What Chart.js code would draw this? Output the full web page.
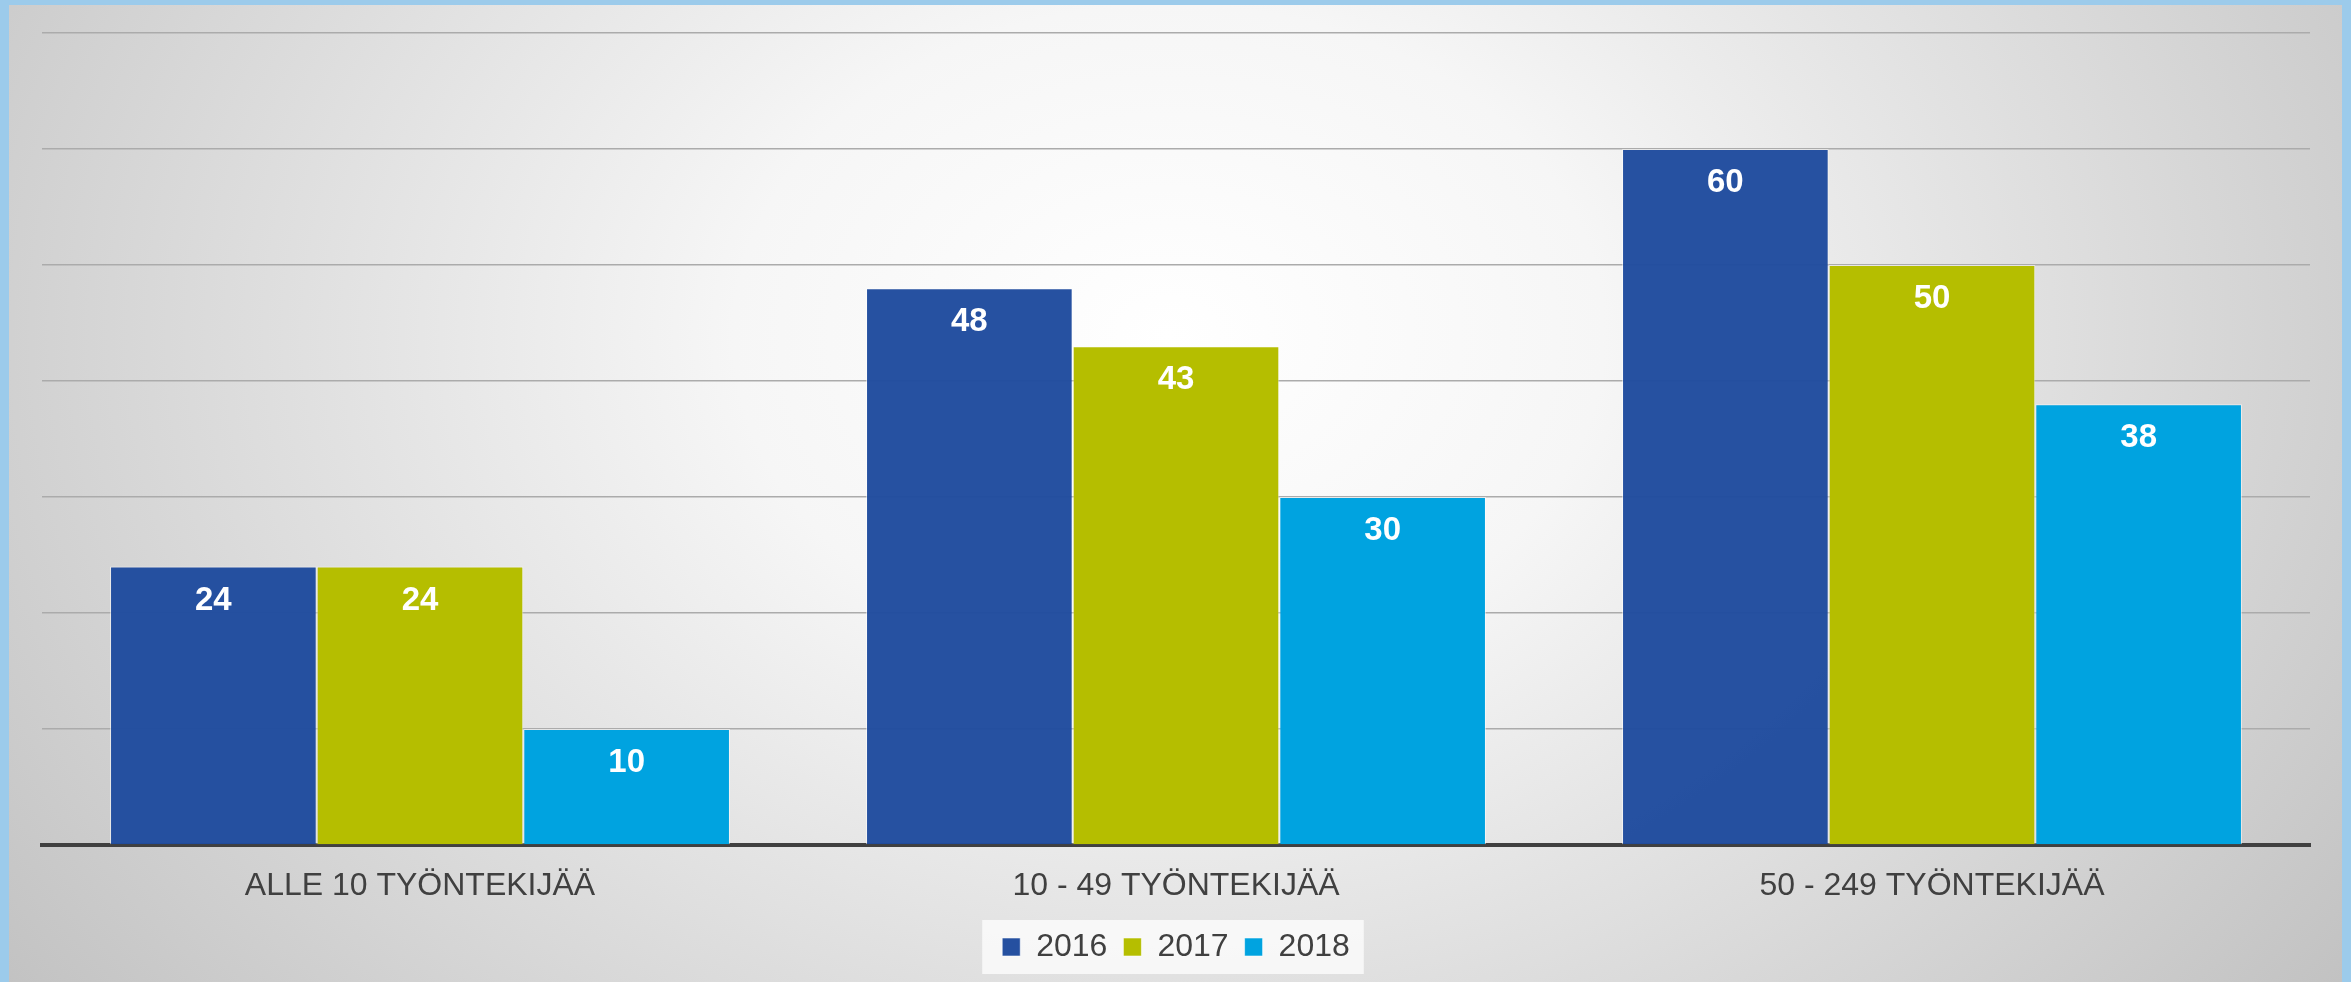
<!DOCTYPE html>
<html>
<head>
<meta charset="utf-8">
<script src="https://cdn.jsdelivr.net/npm/chart.js@4"></script>
<style>
    html, body { margin: 0; padding: 0; }
    body { width: 2351px; height: 982px; background: #9ccbeb; overflow: hidden; position: relative; }
    #panel {
        position: absolute; left: 9px; top: 5px; width: 2333px; height: 977px;
        background: radial-gradient(ellipse 1450px 1100px at 1160px 330px, #ffffff 0%, #f6f6f6 30%, #dcdcdc 65%, #c2c2c2 100%);
    }
    #cchart { display: block; }
</style>
</head>
<body>
<div id="panel"><canvas id="cchart" width="2333" height="977"></canvas></div>
<script>
// Categories and values
let categories = ["ALLE 10 TYÖNTEKIJÄÄ", "10 - 49 TYÖNTEKIJÄÄ", "50 - 249 TYÖNTEKIJÄÄ"];
let seriesNames = ["2016", "2017", "2018"];
let values2016 = [24, 48, 60];
let values2017 = [24, 43, 50];
let values2018 = [10, 30, 38];
let yTicks = [0, 10, 20, 30, 40, 50, 60, 70];

let colors = ["rgba(31, 75, 158, 0.97)", "#b5be00", "#00a3e0"];
let textColor = "#404040";

/*
    Draw value labels inside the top of every bar
*/
let barLabels = {
    id: "barLabels",
    afterDatasetsDraw(chart) {
        let ctx = chart.ctx;
        ctx.save();
        ctx.fillStyle = "#ffffff";
        ctx.font = "bold 33px 'Liberation Sans', Arial, sans-serif";
        ctx.textAlign = "center";
        ctx.textBaseline = "middle";
        chart.data.datasets.forEach((ds, i) => {
            let meta = chart.getDatasetMeta(i);
            meta.data.forEach((bar, j) => {
                ctx.fillText(ds.data[j], bar.x, bar.y + 34);
            });
        });
        ctx.restore();
    }
};

/*
    Light box behind the legend items
*/
let legendBox = {
    id: "legendBox",
    beforeDraw(chart) {
        let boxes = chart.legend.legendHitBoxes;
        if (!boxes || boxes.length === 0) return;
        let left = boxes[0].left - 20;
        let right = boxes[boxes.length - 1].left + boxes[boxes.length - 1].width + 14;
        let top = boxes[0].top - 11;
        let bottom = boxes[0].top + boxes[0].height + 11;
        let ctx = chart.ctx;
        ctx.save();
        ctx.fillStyle = "rgba(250, 250, 250, 0.9)";
        ctx.fillRect(left, top, right - left, bottom - top);
        ctx.restore();
    }
};

let datasets = [values2016, values2017, values2018].map((vals, i) => ({
    label: seriesNames[i],
    data: vals,
    backgroundColor: colors[i],
    borderColor: "rgba(255, 255, 255, 0.55)",
    borderWidth: 1,
    borderSkipped: "bottom",
    categoryPercentage: 0.82,
    barPercentage: 1.0
}));

new Chart(document.getElementById("cchart").getContext("2d"), {
    type: "bar",
    data: { labels: categories, datasets: datasets },
    options: {
        responsive: false,
        animation: false,
        devicePixelRatio: 1,
        layout: { padding: { left: 33, right: 32, top: 28, bottom: 9 } },
        plugins: {
            tooltip: { enabled: false },
            legend: {
                position: "bottom",
                labels: {
                    boxWidth: 18,
                    boxHeight: 18,
                    padding: 16,
                    color: textColor,
                    font: { family: "'Liberation Sans', Arial, sans-serif", size: 32 }
                }
            }
        },
        scales: {
            x: {
                grid: { display: false, drawTicks: false },
                border: { display: true, color: "#404040", width: 4 },
                ticks: {
                    padding: 22,
                    color: textColor,
                    font: { family: "'Liberation Sans', Arial, sans-serif", size: 32 }
                },
                afterFit(scale) { scale.height = 70; }
            },
            y: {
                min: yTicks[0],
                max: yTicks[yTicks.length - 1],
                afterBuildTicks(scale) { scale.ticks = yTicks.map(v => ({ value: v })); },
                grid: { color: "#ababab", lineWidth: 1.5, drawTicks: false },
                border: { display: false },
                ticks: { display: false }
            }
        }
    },
    plugins: [legendBox, barLabels]
});
</script>
</body>
</html>
